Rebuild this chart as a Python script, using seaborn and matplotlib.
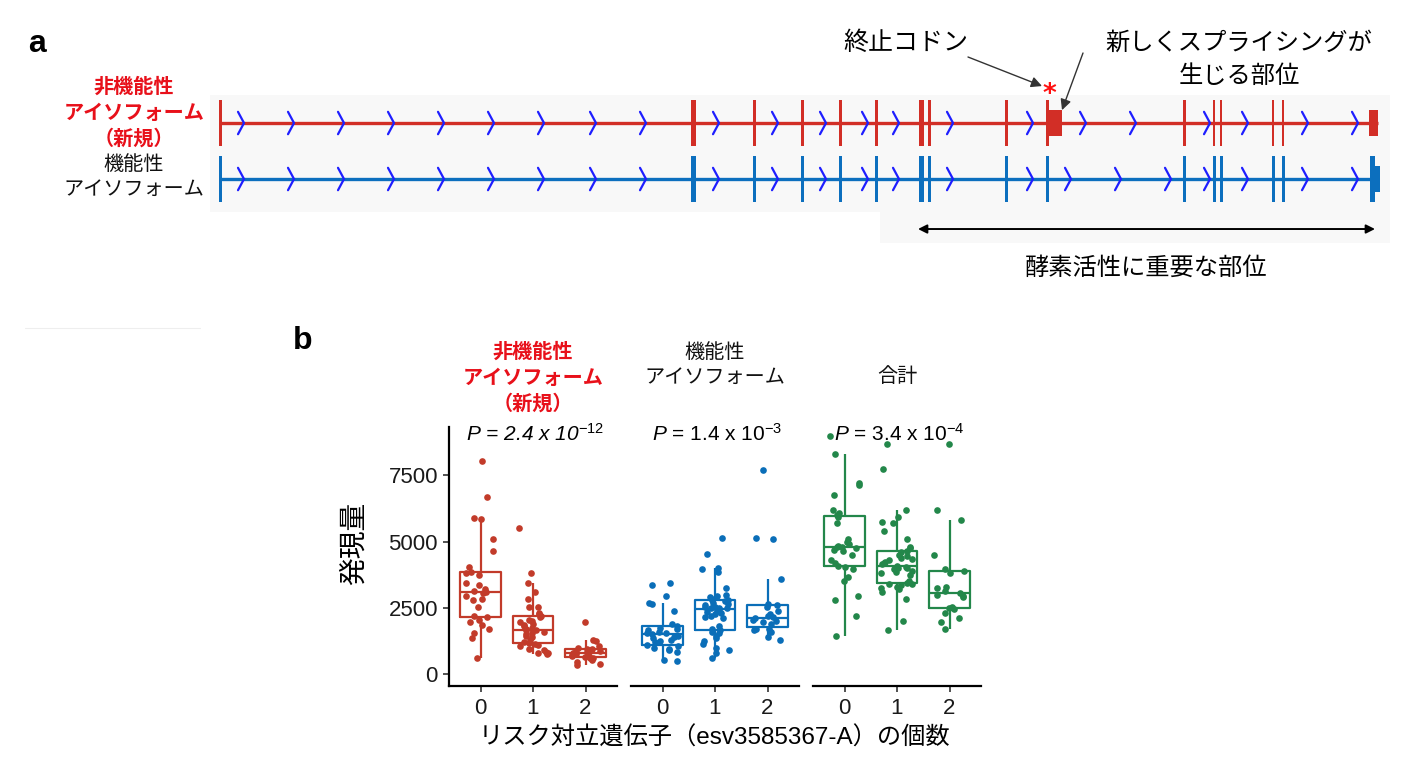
import numpy as np
import pandas as pd
import matplotlib
matplotlib.use("Agg")
import matplotlib.pyplot as plt
import seaborn as sns
from matplotlib.patches import Rectangle
from matplotlib.lines import Line2D

# ---------------- data: panel a (gene model, arbitrary genomic units) ----------------
exon_pos = [0, 473, 534, 582, 620, 656, 701, 709, 786, 827, 964, 994, 1001, 1053, 1063]
red_exon_w = [3, 5, 3, 3, 3, 3, 5, 3, 3, 3, 3, 2.5, 2.5, 1.5, 1.5]
blue_exon_w = [3, 5, 3, 3, 3, 3, 5, 3, 3, 3, 3, 3, 3, 3, 3]
red_utr_start = [827, 1149]
red_utr_len = [15, 9]
blue_last_exon = [1150]
blue_last_exon_w = [5]
blue_utr_start = [1155]
blue_utr_len = [5]
gene_end = 1158
red_chevrons = [23, 73, 123, 173, 223, 273, 323, 375, 425, 498, 557, 605, 647, 678, 732,
                812, 865, 915, 989, 1027, 1087, 1137]
blue_chevrons = [23, 73, 123, 173, 223, 273, 323, 375, 425, 498, 557, 605, 647, 678, 732,
                 812, 850, 900, 950, 989, 1027, 1087, 1137]
stop_codon_pos = 827
domain_start, domain_end = 698, 1155

# ---------------- data: panel b (expression by risk-allele count) ----------------
facet_names = ["非機能性\nアイソフォーム\n（新規）", "機能性\nアイソフォーム", "合計"]
allele_levels = ["0", "1", "2"]
p_texts = ["P = 2.4 x 10$^{\\mathit{-12}}$", "$\\mathit{P}$ = 1.4 x 10$^{-3}$",
           "$\\mathit{P}$ = 3.4 x 10$^{-4}$"]

nonfunc_0 = [8050, 6700, 5900, 5850, 5100, 4650, 4050, 3850, 3800, 3750, 3450, 3350, 3200, 3150,
             3100, 3050, 2950, 2850, 2800, 2550, 2200, 2150, 2050, 1950, 1850, 1700, 1550, 1350, 600]
nonfunc_1 = [750, 780, 800, 850, 900, 950, 1050, 1100, 1150, 1180, 1220, 1300, 1400, 1450, 1500,
             1550, 1600, 1650, 1650, 1700, 1750, 1800, 1850, 1900, 1950, 2000, 2050, 2150, 2200,
             2250, 2300, 2550, 2550, 2850, 3100, 3450, 3800, 5500]
nonfunc_2 = [330, 380, 450, 550, 600, 620, 650, 680, 700, 720, 740, 760, 780, 800, 820, 850, 880,
             900, 950, 950, 1000, 1050, 1250, 1300, 1980]
func_0 = [480, 550, 850, 900, 950, 1000, 1050, 1100, 1200, 1250, 1300, 1350, 1400, 1450, 1500,
          1550, 1550, 1600, 1650, 1700, 1750, 1800, 1900, 2400, 2650, 2700, 2950, 3350, 3450]
func_1 = [600, 800, 900, 1000, 1150, 1250, 1350, 1450, 1550, 1600, 1650, 1700, 1800, 2100, 2150,
          2200, 2250, 2300, 2350, 2400, 2450, 2480, 2500, 2500, 2520, 2550, 2600, 2650, 2700,
          2750, 2800, 2800, 2850, 2900, 2950, 3000, 3250, 3850, 3950, 4000, 4550, 5150]
func_2 = [1300, 1400, 1600, 1650, 1700, 1720, 1900, 1950, 2000, 2050, 2100, 2150, 2200, 2250,
          2400, 2550, 2620, 2650, 3600, 5100, 5150, 7700]
total_0 = [1450, 2200, 2800, 2950, 3500, 3650, 3950, 4050, 4100, 4200, 4300, 4500, 4650, 4700,
           4750, 4780, 4800, 4850, 4900, 5000, 5100, 5700, 5950, 6000, 6100, 6200, 6750, 7150,
           7200, 8300, 9000]
total_1 = [1650, 2000, 2850, 3100, 3200, 3250, 3300, 3350, 3400, 3420, 3450, 3500, 3750, 3800,
           3850, 3900, 3950, 4000, 4000, 4050, 4100, 4150, 4200, 4250, 4300, 4350, 4400, 4450,
           4500, 4600, 4650, 4750, 4800, 5100, 5400, 5700, 5750, 5950, 6200, 7750, 8700]
total_2 = [1700, 1950, 2100, 2300, 2450, 2500, 2550, 2900, 2950, 3000, 3050, 3150, 3250, 3300,
           3800, 3900, 3950, 4500, 5800, 6200, 8700]

series = {
    facet_names[0]: [nonfunc_0, nonfunc_1, nonfunc_2],
    facet_names[1]: [func_0, func_1, func_2],
    facet_names[2]: [total_0, total_1, total_2],
}
rows = []
for f, groups in series.items():
    for lvl, vals in zip(allele_levels, groups):
        for v in vals:
            rows.append((f, lvl, v))
df = pd.DataFrame(rows, columns=["isoform", "alleles", "expr"])

# ---------------- style ----------------
sns.set_style("white")
plt.rcParams["font.family"] = ["Liberation Sans", "Noto Sans CJK JP"]
plt.rcParams["mathtext.fontset"] = "custom"
plt.rcParams["mathtext.rm"] = "Liberation Sans"
plt.rcParams["mathtext.it"] = "Liberation Sans:italic"
plt.rcParams["mathtext.default"] = "regular"
plt.rcParams["text.color"] = "black"
JP = ["Noto Sans CJK JP", "DejaVu Sans"]

W, H, DPI = 1427, 764, 100
RED_T, BLUE_T = "#D22E26", "#0C6FBE"
CHEV = "#1E1EFF"
BOX_COLS = ["#C23B2A", "#0A6EB8", "#23874A"]
TITLE_RED = "#E8101A"

fig = plt.figure(figsize=(W / DPI, H / DPI), dpi=DPI)
fig.patch.set_facecolor("white")


def rect(l, t, r, b):
    return [l / W, 1 - b / H, (r - l) / W, (b - t) / H]


def fx(x):
    return x / W


def fy(y):
    return 1 - y / H


# faint background of panel a
fig.patches.append(Rectangle((fx(210), fy(212)), (1390 - 210) / W, (212 - 95) / H,
                             transform=fig.transFigure, facecolor="#f8f8f8", edgecolor="none", zorder=-5))
fig.patches.append(Rectangle((fx(880), fy(243)), (1390 - 880) / W, (243 - 212) / H,
                             transform=fig.transFigure, facecolor="#f8f8f8", edgecolor="none", zorder=-5))
fig.lines.append(Line2D([fx(25), fx(200)], [fy(328), fy(328)], transform=fig.transFigure,
                        color="#eeeeee", lw=0.8, zorder=-5))

# ---------------- panel a ----------------
ax_a = fig.add_axes(rect(200, 30, 1400, 290))
ax_a.set_zorder(2)
ax_a.set_xlim(-20, 1180)
ax_a.set_ylim(2.982, -1.661)
ax_a.axis("off")
ax_a.patch.set_alpha(0)

EX_H, UTR_H, CH_H = 0.41, 0.23, 0.2
tracks = [
    (0, RED_T, red_exon_w, red_chevrons, gene_end),
    (1, BLUE_T, blue_exon_w, blue_chevrons, gene_end),
]
for yv, col, widths, chevs, gend in tracks:
    ax_a.plot([0, gend], [yv, yv], color=col, lw=2.4, solid_capstyle="butt", zorder=2)
    xs, ys = [], []
    for c in chevs:
        xs += [c - 5, c + 1, c - 5, np.nan]
        ys += [yv - CH_H, yv, yv + CH_H, np.nan]
    ax_a.plot(xs, ys, color=CHEV, lw=1.6, zorder=3)
    ax_a.bar(exon_pos, 2 * EX_H, bottom=yv - EX_H, width=widths, color=col, align="center",
             linewidth=0, zorder=4)

ax_a.bar(red_utr_start, 2 * UTR_H, bottom=0 - UTR_H, width=red_utr_len, color=RED_T,
         align="edge", linewidth=0, zorder=4)
ax_a.bar(blue_last_exon, 2 * EX_H, bottom=1 - EX_H, width=blue_last_exon_w, color=BLUE_T,
         align="edge", linewidth=0, zorder=4)
ax_a.bar(blue_utr_start, 2 * UTR_H, bottom=1 - UTR_H, width=blue_utr_len, color=BLUE_T,
         align="edge", linewidth=0, zorder=4)

# stop codon asterisk and annotations
ax_a.text(stop_codon_pos + 2, -0.50, "*", color="#FF1010", fontsize=19, fontweight="bold",
          ha="center", va="center", family="DejaVu Sans")
ax_a.annotate("", xy=(stop_codon_pos - 5, -0.66), xycoords="data",
              xytext=(968, H - 57), textcoords="figure pixels", annotation_clip=False,
              arrowprops=dict(arrowstyle="-|>", color="#333333", lw=1.0, mutation_scale=16,
                              shrinkA=0, shrinkB=0))
ax_a.annotate("", xy=(stop_codon_pos + 15, -0.23), xycoords="data",
              xytext=(1083, H - 53), textcoords="figure pixels", annotation_clip=False,
              arrowprops=dict(arrowstyle="-|>", color="#333333", lw=1.0, mutation_scale=16,
                              shrinkA=0, shrinkB=0))
ax_a.annotate("", xy=(domain_end, 1.893), xytext=(domain_start, 1.893), annotation_clip=False,
              arrowprops=dict(arrowstyle="<|-|>", color="black", lw=1.4, mutation_scale=13,
                              shrinkA=0, shrinkB=0))

fig.text(fx(37), fy(44), "a", fontsize=23, fontweight="bold", ha="center", va="center")
fig.text(fx(906), fy(43), "終止コドン", fontsize=18, ha="center", va="center", family=JP)
fig.text(fx(1239), fy(59), "新しくスプライシングが\n生じる部位", fontsize=17.5, ha="center",
         va="center", family=JP, linespacing=1.35)
fig.text(fx(1146), fy(268), "酵素活性に重要な部位", fontsize=17.5, ha="center", va="center", family=JP)
fig.text(fx(134), fy(112), "非機能性\nアイソフォーム\n（新規）", fontsize=14.5, fontweight="bold",
         color=TITLE_RED, ha="center", va="center", family=JP, linespacing=1.3)
fig.text(fx(134), fy(177), "機能性\nアイソフォーム", fontsize=14.5, ha="center", va="center",
         family=JP, linespacing=1.25, color="#111111")

# ---------------- panel b ----------------
fig.text(fx(303), fy(341), "b", fontsize=23, fontweight="bold", ha="center", va="center")

facet_left = [449, 631, 813]
facet_w = 168
PT, PB = 427, 686
for i, (f, col) in enumerate(zip(facet_names, BOX_COLS)):
    ax = fig.add_axes(rect(facet_left[i], PT, facet_left[i] + facet_w, PB))
    ax.patch.set_alpha(0)
    sub = df[df["isoform"] == f]
    sns.boxplot(data=sub, x="alleles", y="expr", order=allele_levels, color=col, fill=False,
                width=0.78, linewidth=1.6, showcaps=False, showfliers=False, ax=ax)
    np.random.seed(3 + i)
    sns.stripplot(data=sub, x="alleles", y="expr", order=allele_levels, color=col, jitter=0.3,
                  size=4.8, linewidth=0, ax=ax, zorder=4)
    ax.set_xlim(-0.6, 2.6)
    ax.set_ylim(-450, 9330)
    ax.set_xlabel("")
    ax.set_ylabel("")
    for s in ["top", "right"]:
        ax.spines[s].set_visible(False)
    ax.spines["bottom"].set_linewidth(1.6)
    ax.spines["bottom"].set_color("black")
    ax.tick_params(axis="x", length=4, width=1.2, color="#333333", labelsize=16,
                   labelcolor="#1a1a1a", pad=5, bottom=True)
    if i == 0:
        ax.spines["left"].set_linewidth(1.6)
        ax.spines["left"].set_color("black")
        ax.set_yticks([0, 2500, 5000, 7500])
        ax.set_yticklabels(["0", "2500", "5000", "7500"])
        ax.tick_params(axis="y", length=4, width=1.2, color="#333333", labelsize=16,
                       labelcolor="#1a1a1a", pad=4, left=True)
    else:
        ax.spines["left"].set_visible(False)
        ax.set_yticks([])
    cx = facet_left[i] + facet_w / 2
    if i == 0:
        fig.text(fx(cx), fy(377), f, fontsize=14.5, fontweight="bold", color=TITLE_RED,
                 ha="center", va="center", family=JP, linespacing=1.3)
        fig.text(fx(cx + 2), fy(434), p_texts[i], fontsize=15, fontstyle="italic",
                 ha="center", va="center")
    else:
        fig.text(fx(cx), fy(365 if i == 1 else 377), f, fontsize=14.5, ha="center",
                 va="center", family=JP, linespacing=1.3, color="#111111")
        fig.text(fx(cx + 2), fy(434), p_texts[i], fontsize=15, ha="center", va="center")

fig.text(fx(354), fy(543), "発現量", fontsize=20, rotation=90, ha="center", va="center", family=JP)
fig.text(fx(714), fy(738), "リスク対立遺伝子（esv3585367-A）の個数", fontsize=17.5, ha="center",
         va="center", family=["Liberation Sans", "Noto Sans CJK JP"])

fig.savefig("out.png", dpi=DPI)
